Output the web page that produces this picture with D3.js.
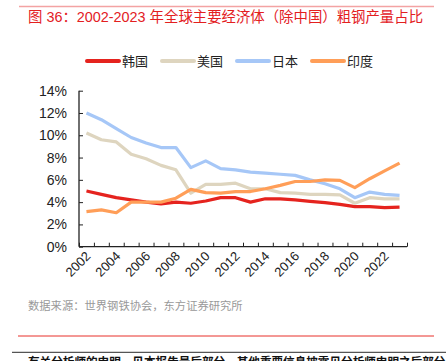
<!DOCTYPE html>
<html>
<head>
<meta charset="utf-8">
<script src="https://cdn.jsdelivr.net/npm/d3@7"></script>
<style>
  html, body { margin: 0; padding: 0; background: #fff; overflow: hidden; }
  svg { display: block; }
  text { font-family: "Liberation Sans", Arial, "Noto Sans CJK SC", sans-serif; }
</style>
</head>
<body>
<script>
const years = d3.range(2002, 2024);
const korea = [5.0, 4.7, 4.4, 4.2, 4.0, 3.85, 4.0, 3.9, 4.1, 4.4, 4.4, 4.0, 4.3, 4.3, 4.2, 4.07, 3.95, 3.8, 3.6, 3.6, 3.5, 3.55];
const usa = [10.2, 9.6, 9.4, 8.3, 7.9, 7.3, 6.9, 4.8, 5.6, 5.6, 5.7, 5.2, 5.2, 4.85, 4.8, 4.7, 4.7, 4.65, 3.9, 4.4, 4.3, 4.3];
const japan = [12.0, 11.4, 10.6, 9.8, 9.3, 8.9, 8.9, 7.1, 7.7, 7.0, 6.9, 6.7, 6.6, 6.5, 6.4, 6.0, 5.65, 5.2, 4.4, 4.9, 4.7, 4.6];
const india = [3.15, 3.3, 3.05, 4.0, 4.0, 4.0, 4.35, 5.15, 4.85, 4.8, 4.95, 4.95, 5.2, 5.5, 5.85, 5.85, 6.0, 5.95, 5.3, 6.1, 6.8, 7.5];
const seriesNames = ['韩国', '美国', '日本', '印度'];
const seriesColors = ['#e5231e', '#ded5bf', '#a6c7f7', '#ff9e58'];
const yTicks = [0, 2, 4, 6, 8, 10, 12, 14];
const labelYears = years.filter(y => y % 2 === 0);

const W = 446, H = 361;
const svg = d3.select('body').append('svg').attr('width', W).attr('height', H);

// header
svg.append('line').attr('x1', 19).attr('x2', 434).attr('y1', 6.5).attr('y2', 6.5)
  .attr('stroke', '#f3a3a3').attr('stroke-width', 1.5);
svg.append('text').attr('x', 28).attr('y', 22).attr('fill', '#e3201f')
  .style('font-size', '14.4px')
  .text('图 36：2002-2023 年全球主要经济体（除中国）粗钢产量占比');

// legend
const legendX = [87, 162, 237, 312];
seriesNames.forEach((name, i) => {
  const g = svg.append('g').attr('transform', `translate(${legendX[i]},61)`);
  g.append('line').attr('x1', 0).attr('x2', 32).attr('y1', 0).attr('y2', 0)
    .attr('stroke', seriesColors[i]).attr('stroke-width', 4).attr('stroke-linecap', 'round');
  g.append('text').attr('x', 35).attr('y', 5).style('font-size', '13px').attr('fill', '#222').text(name);
});

// scales
const x = d3.scaleLinear().domain([2001.5, 2023.5]).range([79, 407]);
const y = d3.scaleLinear().domain([0, 14]).range([246.7, 90.7]);

// y axis
const yAxis = d3.axisLeft(y).tickValues(yTicks).tickFormat(d => d + '%').tickSize(-4).tickPadding(12);
const yg = svg.append('g').attr('transform', 'translate(79,0)').call(yAxis);
yg.select('.domain').attr('stroke', '#222').attr('stroke-width', 1.3).attr('d', 'M0,90.7V246.7');
yg.selectAll('.tick line').attr('stroke', '#222');
yg.selectAll('.tick text').style('font-size', '14px').attr('fill', '#222').attr('x', -12);

// x axis ticks at category boundaries
const xAxis = d3.axisBottom(x).tickValues(d3.range(2001.5, 2024, 1)).tickSize(-4).tickFormat('');
const xg = svg.append('g').attr('transform', 'translate(0,246.7)').call(xAxis);
xg.select('.domain').attr('stroke', '#222').attr('stroke-width', 1.3).attr('d', 'M79,0H407');
xg.selectAll('.tick line').attr('stroke', '#222');

svg.append('g').selectAll('text').data(labelYears).enter().append('text')
  .attr('transform', d => `translate(${x(d) + 5},257) rotate(-45)`)
  .attr('text-anchor', 'end')
  .style('font-size', '13px').attr('fill', '#222')
  .text(d => d);

// lines
const line = d3.line().x((d, i) => x(years[i])).y(d => y(d));
[korea, usa, japan, india].forEach((s, i) => {
  svg.append('path').datum(s).attr('d', line).attr('fill', 'none')
    .attr('stroke', seriesColors[i]).attr('stroke-width', 3.2)
    .attr('stroke-linejoin', 'round');
});

// footer
svg.append('text').attr('x', 28).attr('y', 310).style('font-size', '11.3px').attr('fill', '#999')
  .text('数据来源：世界钢铁协会，东方证券研究所');
svg.append('line').attr('x1', 18).attr('x2', 434).attr('y1', 336).attr('y2', 336)
  .attr('stroke', '#e8302b').attr('stroke-width', 1);
svg.append('line').attr('x1', 12).attr('x2', 446).attr('y1', 352.3).attr('y2', 352.3)
  .attr('stroke', '#555').attr('stroke-width', 1.3);
svg.append('text').attr('x', 28).attr('y', 366).style('font-size', '11.6px').style('font-weight', 'bold').attr('fill', '#111')
  .text('有关分析师的申明，见本报告最后部分，其他重要信息披露见分析师申明之后部分');
</script>
</body>
</html>
